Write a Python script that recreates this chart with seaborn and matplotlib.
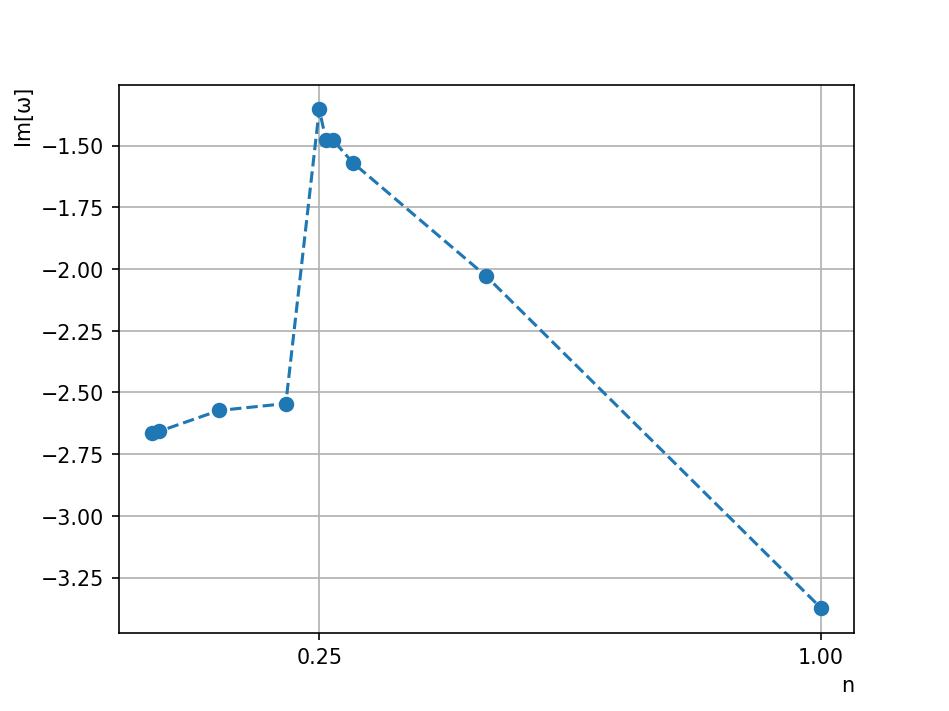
import numpy as np
import pandas as pd
import matplotlib
matplotlib.use('Agg')
import matplotlib.pyplot as plt
import seaborn as sns

# values
n_values = [0.0, 0.01, 0.1, 0.2, 0.25, 0.26, 0.27, 0.3, 0.5, 1.0]
im_omega = [-2.666, -2.658, -2.573, -2.545, -1.354, -1.476, -1.476, -1.569, -2.030, -3.372]
x_ticks = [0.25, 1.0]
x_tick_labels = ['0.25', '1.00']

df = pd.DataFrame({'n': n_values, 'im': im_omega})

fig, ax = plt.subplots(figsize=(6.4, 4.8), dpi=148.3)

sns.lineplot(data=df, x='n', y='im', ax=ax, sort=False, estimator=None,
             color='#1f77b4', linestyle='--', linewidth=1.5, marker='o',
             markersize=6.5, markeredgecolor='#1f77b4', markeredgewidth=1)

ax.set_xticks(x_ticks)
ax.set_xticklabels(x_tick_labels)
ax.grid(True)
ax.set_xlabel('n', loc='right')
ax.set_ylabel('Im[ω]', loc='top')

plt.savefig('out.png', dpi=148.3)
plt.close()
